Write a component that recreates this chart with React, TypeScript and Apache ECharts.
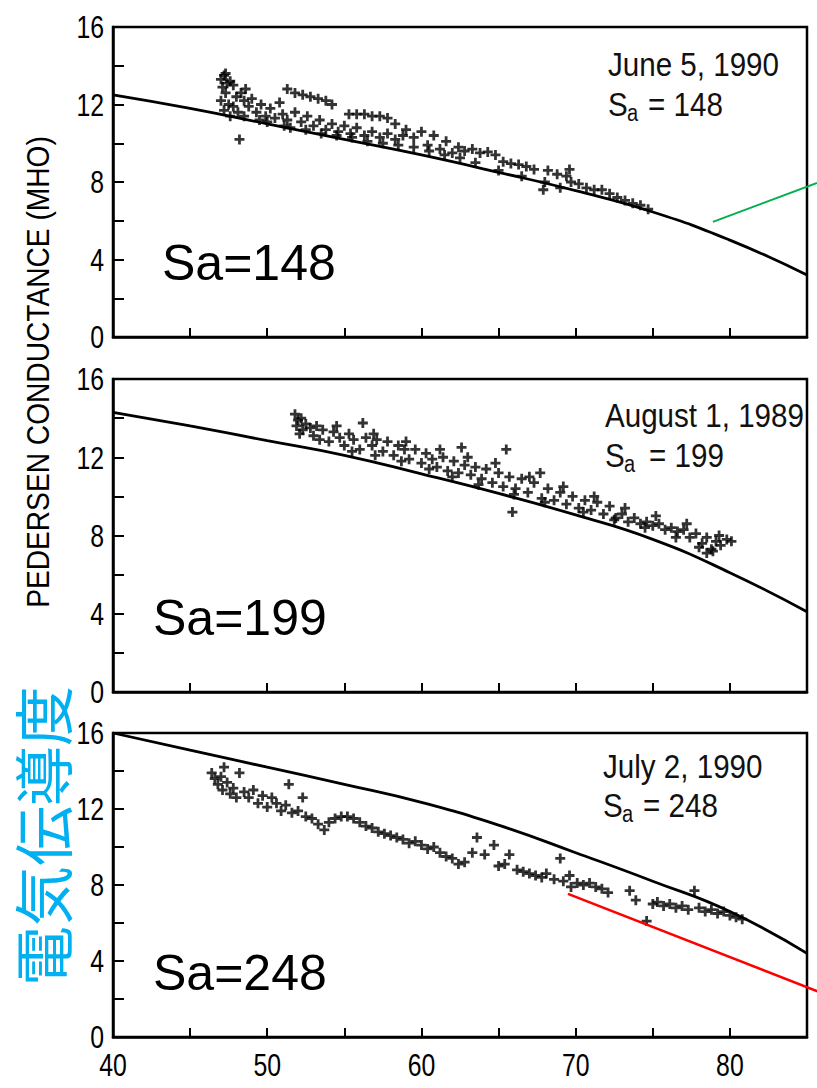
import React, { useEffect, useRef } from "react";
import * as echarts from "echarts";

// ---------- data ----------
const curveX = [40, 45, 50, 55, 60, 65, 70, 75, 80, 85];
const curveJune = [12.5, 11.8, 11.0, 10.2, 9.4, 8.5, 7.55, 6.45, 5.0, 3.2];
const curveAug = [14.3, 13.6, 12.85, 12.1, 11.15, 10.15, 9.05, 7.8, 6.1, 4.1];
const curveJuly = [16.0, 15.1, 14.2, 13.3, 12.35, 11.15, 9.7, 8.2, 6.6, 4.4];

const obsJune = [
  [47.0, 13.3], [47.2, 13.5], [47.4, 13.1], [47.1, 12.9], [47.6, 13.2], [47.3, 12.6], [47.0, 12.2],
  [47.5, 12.0], [47.2, 11.7], [47.8, 11.9], [48.0, 12.4], [48.3, 12.6], [48.1, 11.6], [47.6, 11.4],
  [48.5, 12.2], [48.8, 11.9], [48.2, 10.2], [49.0, 12.3], [49.3, 11.6], [49.6, 12.0], [49.9, 11.4],
  [50.2, 11.8], [50.5, 11.3], [50.8, 12.1], [51.0, 11.5], [51.3, 11.2], [51.1, 10.9],
  [51.3, 12.8], [51.8, 12.6], [52.3, 12.5], [52.8, 12.4], [53.3, 12.3], [53.8, 12.2], [54.2, 12.0],
  [51.8, 11.6], [52.2, 11.1], [52.6, 11.4], [53.0, 10.9], [53.4, 11.2], [53.8, 10.7], [54.2, 11.0],
  [54.6, 10.6], [55.0, 10.9], [55.4, 10.5], [55.8, 10.8],
  [55.3, 11.5], [55.8, 11.5], [56.3, 11.5], [56.8, 11.4], [57.3, 11.4], [57.8, 11.3], [58.3, 11.0],
  [56.3, 10.4], [56.8, 10.6], [57.3, 10.3], [57.8, 10.5], [58.3, 10.2], [58.8, 10.4],
  [59.0, 10.7], [59.5, 10.3], [60.0, 10.6], [60.4, 9.9], [60.8, 10.4], [61.2, 9.7], [61.6, 10.1],
  [62.0, 9.5], [62.4, 9.8], [62.8, 9.6], [63.3, 9.7], [63.8, 9.5], [64.3, 9.55], [64.8, 9.4],
  [65.3, 9.05], [65.8, 8.95], [66.3, 8.9], [66.8, 8.8], [67.3, 8.65], [67.9, 7.6], [68.2, 8.6],
  [68.8, 8.4], [69.4, 8.3], [69.6, 8.65], [69.7, 8.0], [70.2, 7.9], [70.7, 7.7], [71.2, 7.6],
  [71.7, 7.6], [72.2, 7.4], [72.7, 7.2], [73.2, 7.05], [73.7, 6.9], [74.2, 6.8], [74.7, 6.6],
  [63.5, 9.0], [65.0, 8.6], [66.5, 8.3], [68.0, 8.0], [69.0, 7.7],
  [47.3, 13.6], [47.8, 13.0], [48.6, 12.8], [48.5, 11.4], [49.5, 11.2], [50.0, 11.1], [51.5, 10.8],
  [52.5, 10.7], [53.5, 10.5], [54.5, 10.4], [55.5, 10.3], [56.5, 10.1], [57.5, 10.0], [58.5, 9.9],
  [59.5, 9.8], [60.5, 9.6], [61.5, 9.4], [62.5, 9.25],
];

const obsAug = [
  [51.8, 14.2], [52.0, 13.9], [51.9, 13.6], [52.2, 14.0], [52.3, 13.4], [52.5, 13.7], [52.1, 13.2],
  [52.8, 13.5], [53.0, 13.1], [53.2, 13.6], [53.4, 12.9], [53.6, 13.4], [54.0, 12.8], [54.3, 13.3],
  [54.7, 13.0], [55.0, 12.6], [55.3, 13.2], [55.6, 12.9], [56.0, 12.4], [56.2, 13.75], [56.4, 13.0],
  [56.8, 12.6], [57.1, 12.9], [57.5, 12.3], [57.8, 12.8], [58.2, 12.1], [58.5, 12.6], [58.9, 12.4],
  [59.2, 11.9], [59.6, 12.4], [60.0, 11.7], [60.3, 12.2], [60.7, 11.9], [61.0, 11.5], [61.4, 12.0],
  [61.7, 11.3], [62.1, 11.8], [62.4, 11.2], [62.6, 12.5], [62.8, 11.6], [63.2, 11.1], [63.5, 11.5],
  [63.9, 10.9], [64.2, 11.4], [64.6, 10.7], [65.0, 11.2], [65.5, 12.4], [65.3, 10.5], [65.7, 11.0],
  [65.9, 9.2], [66.1, 10.4], [66.5, 10.9], [66.9, 10.2], [67.3, 10.7], [67.7, 11.2], [67.8, 9.9],
  [68.2, 10.4], [68.6, 9.8], [69.0, 10.2], [69.4, 9.6], [69.8, 10.0], [70.2, 9.4], [70.6, 9.8],
  [71.0, 9.3], [71.4, 9.7], [71.8, 9.1], [72.2, 9.5], [72.6, 8.9], [73.0, 9.1], [73.4, 8.7],
  [73.8, 8.9], [74.2, 8.6], [74.6, 8.7], [75.0, 8.5], [75.4, 8.6], [75.8, 8.3], [76.2, 8.4],
  [76.6, 8.2], [77.0, 8.3], [77.4, 7.9], [77.8, 8.1], [78.2, 7.6], [78.5, 7.9], [78.5, 7.1],
  [78.8, 7.3], [78.9, 7.2], [79.1, 7.7], [79.4, 7.5], [79.8, 7.8], [80.1, 7.7],
  [55.5, 12.3], [57.0, 12.1], [58.7, 11.8], [60.5, 11.4], [62.0, 11.0], [63.7, 10.6], [66.0, 10.1],
  [68.0, 9.7], [70.5, 9.2], [72.5, 8.8], [74.5, 8.4], [76.5, 7.9], [78.0, 7.4],
  [54.5, 13.6], [56.9, 13.2], [59.0, 12.8], [61.2, 12.4], [63.0, 12.0], [64.8, 11.7], [67.0, 11.0],
  [69.2, 10.5], [71.2, 10.0], [73.2, 9.4], [75.2, 9.0], [77.2, 8.6], [79.3, 8.0],
];

const obsJuly = [
  [46.4, 13.9], [46.6, 13.6], [46.8, 13.3], [47.0, 13.7], [47.2, 14.2], [47.1, 13.0], [47.4, 13.4],
  [47.6, 12.8], [47.8, 13.1], [48.0, 12.6], [48.2, 13.9], [48.5, 12.9], [48.8, 12.6], [49.1, 13.0],
  [49.4, 12.3], [49.7, 12.7], [50.0, 12.1], [50.3, 12.6], [50.6, 12.3], [50.9, 11.9], [51.2, 12.2],
  [51.4, 13.3], [51.6, 11.8], [52.0, 11.9], [52.3, 12.6], [52.5, 11.6], [52.9, 11.5], [53.3, 11.2],
  [53.7, 10.9], [54.0, 11.3], [54.4, 11.5], [54.8, 11.6], [55.2, 11.6], [55.6, 11.5], [56.0, 11.3],
  [56.4, 11.1], [56.8, 11.0], [57.2, 10.8], [57.6, 10.7], [58.0, 10.6], [58.4, 10.5], [58.8, 10.4],
  [59.2, 10.2], [59.6, 10.3], [60.0, 10.1], [60.4, 9.9], [60.8, 10.0], [61.2, 9.7], [61.6, 9.5],
  [62.0, 9.4], [62.4, 9.1], [62.8, 9.2], [63.3, 9.7], [63.6, 10.5], [64.1, 9.6], [64.7, 10.1],
  [65.0, 9.0], [65.4, 9.1], [65.7, 9.6], [66.2, 8.8], [66.6, 8.7], [67.0, 8.6], [67.4, 8.5],
  [67.8, 8.4], [68.1, 8.6], [68.6, 8.3], [69.0, 9.4], [69.2, 8.2], [69.6, 8.5], [69.7, 7.9],
  [70.1, 8.1], [70.5, 8.0], [70.9, 8.1], [71.3, 7.9], [71.7, 7.8], [72.1, 7.6], [73.5, 7.7],
  [73.9, 7.2], [74.6, 6.1], [75.0, 7.0], [75.3, 7.1], [75.7, 6.9], [76.1, 7.0], [76.5, 6.8],
  [76.9, 6.9], [77.3, 6.7], [77.7, 7.7], [78.0, 6.8], [78.4, 6.6], [78.8, 6.7], [79.2, 6.5],
  [79.6, 6.6], [80.0, 6.4], [80.4, 6.3], [80.8, 6.2],
];

const yTicks = [0, 4, 8, 12, 16];
const xTicks = [40, 50, 60, 70, 80];
const greenLine = [[78.9, 5.94], [85.65, 7.95]];
const redLine = [[69.5, 7.53], [85.8, 2.37]];
const dates = ["June 5, 1990", "August 1, 1989", "July 2, 1990"];
const saValues = ["148", "199", "248"];
const yTitle = "PEDERSEN CONDUCTANCE (MHO)";
const jpTitle = "電気伝導度";

// ---------- layout ----------
const ARIAL = "'Liberation Sans', Arial, sans-serif";
const grids = [
  { top: 27, height: 310 },
  { top: 379, height: 313 },
  { top: 733, height: 304 },
];
const curves = [curveJune, curveAug, curveJuly];
const observations = [obsJune, obsAug, obsJuly];
const dateCenters = [64, 415, 766];
const saCenters = [104, 455, 805];
const bigCenters = [263, 618, 973];
const bigLeft = [162, 153, 153];
const dateLeft = [608, 605, 603];
const restOffset = [40, 44, 40];
const NARROW_SCALE = 0.87;

const PLUS = "path://M3.6,0H6.4V3.6H10V6.4H6.4V10H3.6V6.4H0V3.6H3.6Z";

export default function App() {
  const ref = useRef<HTMLDivElement>(null);
  useEffect(() => {
    if (!ref.current) return;
    const chart = echarts.init(ref.current, null, { renderer: "svg" });
    const axisLine = { show: true, lineStyle: { color: "#000", width: 2.5 } };
    const option: any = {
      animation: false,
      backgroundColor: "#fff",
      grid: grids.map((g) => ({
        left: 113,
        width: 694,
        top: g.top,
        height: g.height,
        show: true,
        borderColor: "#000",
        borderWidth: 2.5,
      })),
      xAxis: grids.map((_, i) => ({
        gridIndex: i,
        type: "value",
        min: 40,
        max: 85,
        interval: 5,
        axisLine,
        axisTick: { show: true, inside: true, length: 9, lineStyle: { color: "#000", width: 2 } },
        axisLabel: { show: false },
        splitLine: { show: false },
      })),
      yAxis: grids.map((_, i) => ({
        gridIndex: i,
        type: "value",
        min: 0,
        max: 16,
        interval: 2,
        axisLine,
        axisTick: { show: true, inside: true, length: 11, lineStyle: { color: "#000", width: 2 } },
        axisLabel: { show: false },
        splitLine: { show: false },
      })),
      series: [
        ...observations.map((obs, i) => ({
          type: "scatter",
          xAxisIndex: i,
          yAxisIndex: i,
          data: obs,
          symbol: PLUS,
          symbolSize: 10,
          itemStyle: { color: "#000" },
          z: 3,
        })),
        ...curves.map((c, i) => ({
          type: "line",
          xAxisIndex: i,
          yAxisIndex: i,
          data: curveX.map((x, k) => [x, c[k]]),
          smooth: true,
          showSymbol: false,
          lineStyle: { color: "#000", width: 2.8 },
          z: 2,
        })),
      ],
    };
    chart.setOption(option);

    const toPx = (g: number, p: number[]) => chart.convertToPixel({ gridIndex: g }, p) as number[];
    const g0 = toPx(0, greenLine[0]);
    const g1 = toPx(0, greenLine[1]);
    const r0 = toPx(2, redLine[0]);
    const r1 = toPx(2, redLine[1]);

    const graphic: any[] = [
      {
        type: "text",
        x: 38,
        y: 372,
        rotation: Math.PI / 2,
        scaleX: 0.88,
        style: {
          text: yTitle,
          font: `32px ${ARIAL}`,
          fill: "#000",
          align: "center",
          verticalAlign: "middle",
        },
      },
      {
        type: "text",
        x: 40,
        y: 836,
        rotation: Math.PI / 2,
        style: {
          text: jpTitle,
          font: `60px 'Noto Sans CJK JP', sans-serif`,
          fill: "#00B0F0",
          align: "center",
          verticalAlign: "middle",
        },
      },
      {
        type: "line",
        shape: { x1: g0[0], y1: g0[1], x2: g1[0], y2: g1[1] },
        style: { stroke: "#00B050", lineWidth: 2 },
        z: 10,
      },
      {
        type: "line",
        shape: { x1: r0[0], y1: r0[1], x2: r1[0], y2: r1[1] },
        style: { stroke: "#FF0000", lineWidth: 2.5 },
        z: 10,
      },
    ];

    // tick labels, placed through the axes' own scales
    for (let i = 0; i < 3; i++) {
      yTicks.forEach((v) => {
        const p = toPx(i, [40, v]);
        graphic.push({
          type: "text",
          x: p[0] - 9,
          y: p[1] + 1,
          scaleX: 0.8,
          style: { text: String(v), font: `31px ${ARIAL}`, fill: "#000", align: "right", verticalAlign: "middle" },
        });
      });
    }
    xTicks.forEach((v) => {
      const p = toPx(2, [v, 0]);
      graphic.push({
        type: "text",
        x: p[0],
        y: p[1] + 29,
        scaleX: 0.8,
        style: { text: String(v), font: `31px ${ARIAL}`, fill: "#000", align: "center", verticalAlign: "middle" },
      });
    });

    for (let i = 0; i < 3; i++) {
      graphic.push(
        {
          type: "text",
          x: dateLeft[i],
          y: dateCenters[i],
          scaleX: NARROW_SCALE,
          style: { text: dates[i], font: `34px ${ARIAL}`, fill: "#111", align: "left", verticalAlign: "middle" },
        },
        {
          type: "text",
          x: dateLeft[i],
          y: saCenters[i],
          scaleX: NARROW_SCALE,
          style: { text: "S", font: `34px ${ARIAL}`, fill: "#111", align: "left", verticalAlign: "middle" },
        },
        {
          type: "text",
          x: dateLeft[i] + 19,
          y: saCenters[i] + 9,
          scaleX: NARROW_SCALE,
          style: { text: "a", font: `23px ${ARIAL}`, fill: "#111", align: "left", verticalAlign: "middle" },
        },
        {
          type: "text",
          x: dateLeft[i] + restOffset[i],
          y: saCenters[i],
          scaleX: NARROW_SCALE,
          style: { text: "= " + saValues[i], font: `34px ${ARIAL}`, fill: "#111", align: "left", verticalAlign: "middle" },
        },
        {
          type: "text",
          x: bigLeft[i],
          y: bigCenters[i],
          style: { text: "Sa=" + saValues[i], font: `50px ${ARIAL}`, fill: "#000", align: "left", verticalAlign: "middle" },
        }
      );
    }
    chart.setOption({ graphic });
    return () => chart.dispose();
  }, []);

  return (
    <div
      ref={ref}
      style={{ position: "fixed", left: 0, top: 0, width: 817, height: 1088, background: "#fff" }}
    />
  );
}
